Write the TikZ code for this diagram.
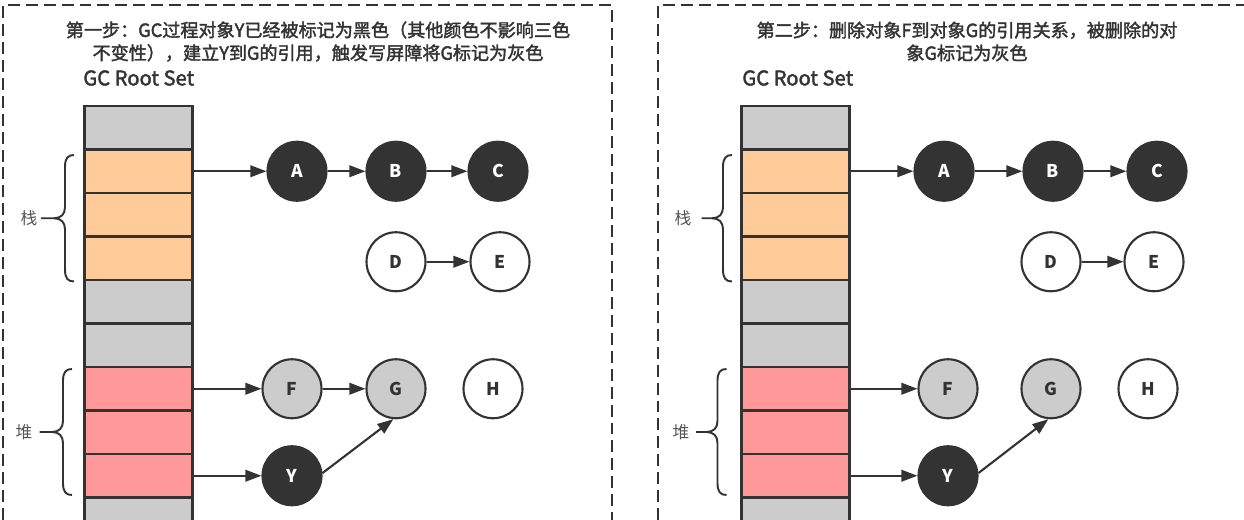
\documentclass[tikz,border=0pt]{standalone}
\usepackage{fontspec}
\setmainfont{Noto Sans CJK SC}
\newfontfamily\heavyfont{Noto Sans CJK SC}[FakeBold=2]
\usetikzlibrary{arrows.meta}
\definecolor{inkdark}{HTML}{333333}
\definecolor{rootgray}{HTML}{CCCCCC}
\definecolor{stackfill}{HTML}{FFCC99}
\definecolor{heapfill}{HTML}{FF9999}
\definecolor{sidetext}{HTML}{555555}
\tikzset{
  frame/.style={draw=inkdark, line width=1.4pt, dash pattern=on 6.8pt off 3.4pt},
  slot/.style={rectangle, draw=inkdark, line width=1.2pt, minimum width=2.16cm, minimum height=0.87cm, inner sep=0pt},
  obj/.style={circle, draw=inkdark, line width=1.2pt, minimum size=1.18cm, inner sep=0pt, font=\fontsize{10}{12}\selectfont\bfseries},
  objblack/.style={obj, fill=inkdark, text=white},
  objgray/.style={obj, fill=rootgray, text=inkdark},
  objwhite/.style={obj, fill=white, text=inkdark},
  ref/.style={-{Triangle[length=0.32cm, width=0.23cm]}, draw=inkdark, line width=1.2pt},
  brc/.style={draw=inkdark, line width=1.1pt},
  ttl/.style={font=\heavyfont\fontsize{10.3}{13}\selectfont, text=inkdark, align=center, inner sep=0pt},
  rootlbl/.style={font=\heavyfont\fontsize{11.5}{14}\selectfont, text=inkdark, anchor=west, inner sep=0pt},
  side/.style={font=\fontsize{9.5}{11}\selectfont, text=sidetext, inner sep=0pt},
}
\newcommand{\regionbrace}[4]{%
  \draw[brc] (#1,#3) .. controls ({#1-0.12},#3) and ({#1-0.18},{#3-0.06}) .. ({#1-0.18},{#3-0.24})
    -- ({#1-0.18},{(#3+#4)/2+0.22}) .. controls ({#1-0.18},{(#3+#4)/2+0.08}) and ({#1-0.26},{(#3+#4)/2}) .. ({#1-0.40},{(#3+#4)/2})
    -- (#2,{(#3+#4)/2})
    ({#1-0.40},{(#3+#4)/2}) .. controls ({#1-0.26},{(#3+#4)/2}) and ({#1-0.18},{(#3+#4)/2-0.08}) .. ({#1-0.18},{(#3+#4)/2-0.22})
    -- ({#1-0.18},{#4+0.24}) .. controls ({#1-0.18},{#4+0.06}) and ({#1-0.12},#4) .. (#1,#4);}

\begin{document}
\begin{tikzpicture}[x=1cm,y=1cm]
  \useasboundingbox (0,0) rectangle (24.88,-10.40);
  \draw[frame] (0.06,-10.40) -- (0.06,-0.10) -- (12.24,-0.10) -- (12.24,-10.40);
  \draw[frame] (13.16,-10.40) -- (13.16,-0.10) -- (24.88,-0.10);
  \node[ttl] (lttl) at (6.36,-0.83) {第一步：GC过程对象Y已经被标记为黑色（其他颜色不影响三色\\不变性），建立Y到G的引用，触发写屏障将G标记为灰色};
  \node[rootlbl] (lroot) at (1.66,-1.56) {GC Root Set};
  \node[slot, fill=rootgray] (l0) at (2.77,-2.555) {};
  \node[slot, fill=stackfill] (l1) at (2.77,-3.425) {};
  \node[slot, fill=stackfill] (l2) at (2.77,-4.295) {};
  \node[slot, fill=stackfill] (l3) at (2.77,-5.165) {};
  \node[slot, fill=rootgray] (l4) at (2.77,-6.035) {};
  \node[slot, fill=rootgray] (l5) at (2.77,-6.905) {};
  \node[slot, fill=heapfill] (l6) at (2.77,-7.775) {};
  \node[slot, fill=heapfill] (l7) at (2.77,-8.645) {};
  \node[slot, fill=heapfill] (l8) at (2.77,-9.515) {};
  \node[slot, fill=rootgray] (l9) at (2.77,-10.385) {};
  \node[side] (lstk) at (0.58,-4.365) {栈};
  \regionbrace{1.48}{0.82}{-3.10}{-5.63}
  \node[side] (lheap) at (0.48,-8.64) {堆};
  \regionbrace{1.44}{0.79}{-7.38}{-9.90}
  \node[objblack] (lA) at (5.94,-3.425) {A};
  \node[objblack] (lB) at (7.92,-3.425) {B};
  \node[objblack] (lC) at (9.96,-3.425) {C};
  \node[objwhite] (lD) at (7.92,-5.235) {D};
  \node[objwhite] (lE) at (10.00,-5.235) {E};
  \node[objgray] (lF) at (5.84,-7.775) {F};
  \node[objgray] (lG) at (7.92,-7.775) {G};
  \node[objwhite] (lH) at (9.86,-7.775) {H};
  \node[objblack] (lY) at (5.84,-9.515) {Y};
  \draw[ref] (l1.east) -- (lA);
  \draw[ref] (lA) -- (lB);
  \draw[ref] (lB) -- (lC);
  \draw[ref] (lD) -- (lE);
  \draw[ref] (l6.east) -- (lF);
  \draw[ref] (lF) -- (lG);
  \draw[ref] (l8.east) -- (lY);
  \draw[ref] (lY.5) -- (lG.265);
  \node[ttl] (rttl) at (19.34,-0.83) {第二步：删除对象F到对象G的引用关系，被删除的对\\象G标记为灰色};
  \node[rootlbl] (rroot) at (14.84,-1.56) {GC Root Set};
  \node[slot, fill=rootgray] (r0) at (15.91,-2.555) {};
  \node[slot, fill=stackfill] (r1) at (15.91,-3.425) {};
  \node[slot, fill=stackfill] (r2) at (15.91,-4.295) {};
  \node[slot, fill=stackfill] (r3) at (15.91,-5.165) {};
  \node[slot, fill=rootgray] (r4) at (15.91,-6.035) {};
  \node[slot, fill=rootgray] (r5) at (15.91,-6.905) {};
  \node[slot, fill=heapfill] (r6) at (15.91,-7.775) {};
  \node[slot, fill=heapfill] (r7) at (15.91,-8.645) {};
  \node[slot, fill=heapfill] (r8) at (15.91,-9.515) {};
  \node[slot, fill=rootgray] (r9) at (15.91,-10.385) {};
  \node[side] (rstk) at (13.66,-4.365) {栈};
  \regionbrace{14.64}{14.03}{-3.10}{-5.63}
  \node[side] (rheap) at (13.62,-8.64) {堆};
  \regionbrace{14.53}{13.92}{-7.38}{-9.90}
  \node[objblack] (rA) at (18.88,-3.425) {A};
  \node[objblack] (rB) at (21.06,-3.425) {B};
  \node[objblack] (rC) at (23.14,-3.425) {C};
  \node[objwhite] (rD) at (21.02,-5.235) {D};
  \node[objwhite] (rE) at (23.08,-5.235) {E};
  \node[objgray] (rF) at (18.96,-7.775) {F};
  \node[objgray] (rG) at (21.02,-7.775) {G};
  \node[objwhite] (rH) at (22.96,-7.775) {H};
  \node[objblack] (rY) at (18.96,-9.515) {Y};
  \draw[ref] (r1.east) -- (rA);
  \draw[ref] (rA) -- (rB);
  \draw[ref] (rB) -- (rC);
  \draw[ref] (rD) -- (rE);
  \draw[ref] (r6.east) -- (rF);
  \draw[ref] (r8.east) -- (rY);
  \draw[ref] (rY.5) -- (rG.265);
\end{tikzpicture}
\end{document}
